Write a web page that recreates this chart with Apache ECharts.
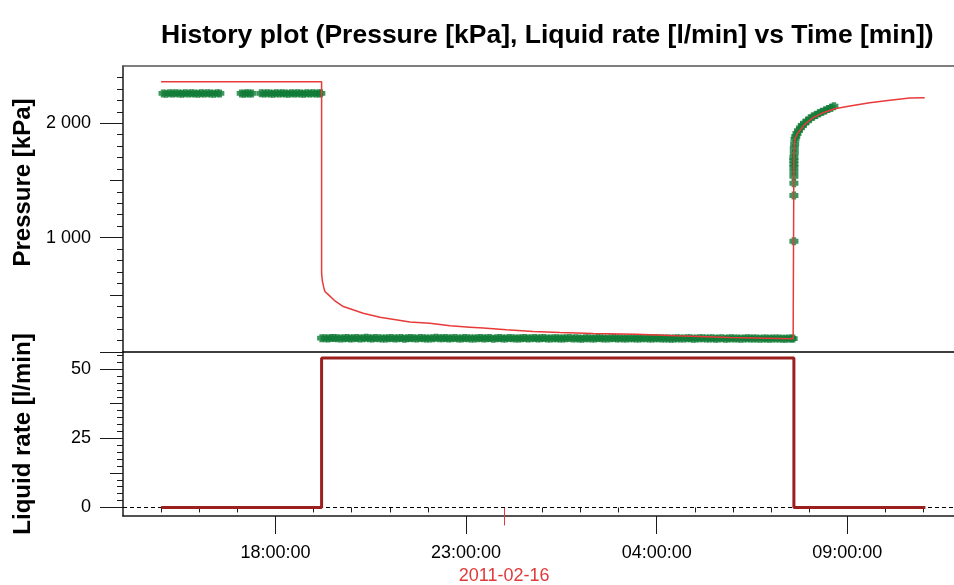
<!DOCTYPE html>
<html>
<head>
<meta charset="utf-8">
<script src="https://cdn.jsdelivr.net/npm/echarts@6/dist/echarts.min.js"></script>
<style>
  html, body { margin: 0; padding: 0; background: #fff; }
  #chart { width: 954px; height: 585px; }
</style>
</head>
<body>
<div id="chart"></div>
<script>
// ---- Data (time in hours since 2011-02-15 00:00) ----
const titleText = 'History plot (Pressure [kPa], Liquid rate [l/min] vs Time [min])';
const pressureName = 'Pressure [kPa]';
const rateName = 'Liquid rate [l/min]';
const dateLabel = '2011-02-16';

// Simulated / model pressure (red line) [hour, kPa]
const pressureModel = [
  [15.00, 2362], [19.21, 2362], [19.21, 687], [19.23, 620], [19.27, 560], [19.30, 527], [19.38, 504],
  [19.55, 450], [19.78, 397], [20.30, 339], [20.74, 304], [21.53, 263], [22.05, 252],
  [22.58, 229], [23.10, 217], [23.45, 209], [24.06, 194], [24.76, 179],
  [25.46, 170], [26.33, 162], [27.47, 155], [28.52, 142], [29.92, 127],
  [31.58, 116], [31.60, 116], [31.60, 1716], [31.62, 1861], [31.71, 1918],
  [31.89, 1991], [32.10, 2049], [32.37, 2092], [32.67, 2127], [33.07, 2150],
  [33.59, 2179], [34.12, 2200], [34.64, 2220], [35.03, 2223]
];

// Measured gauge pressure (green markers) [hour, kPa]
const gaugePreA = [
  [15.05, 2260], [15.13, 2258], [15.22, 2261], [15.30, 2259], [15.38, 2262],
  [15.47, 2260], [15.55, 2258], [15.63, 2261], [15.72, 2259], [15.80, 2262],
  [15.88, 2260], [15.97, 2257], [16.05, 2261], [16.13, 2259], [16.22, 2262],
  [16.30, 2260], [16.38, 2258], [16.47, 2261], [16.54, 2260]
];
const gaugePreB = [
  [17.10, 2260], [17.17, 2258], [17.24, 2261], [17.31, 2259], [17.38, 2260],
  [17.62, 2261], [17.70, 2259], [17.78, 2262], [17.86, 2260], [17.94, 2258],
  [18.02, 2261], [18.10, 2259], [18.18, 2262], [18.26, 2260], [18.34, 2258],
  [18.42, 2261], [18.50, 2259], [18.58, 2262], [18.66, 2260], [18.74, 2258],
  [18.82, 2261], [18.90, 2259], [18.98, 2262], [19.06, 2260], [19.14, 2259],
  [19.19, 2261]
];
const gaugeDrawdown = [
  [19.21, 121], [19.30, 120], [19.38, 119], [19.46, 122], [19.54, 123], [19.62, 120], [19.71, 118], [19.80, 121], [19.88, 122],
  [19.96, 119], [20.04, 120], [20.13, 123], [20.21, 117], [20.30, 121], [20.38, 124], [20.46, 120], [20.54, 119], [20.62, 122], [20.71, 121],
  [20.80, 119], [20.88, 118], [20.96, 121], [21.04, 122], [21.13, 119], [21.21, 120], [21.30, 122], [21.38, 116], [21.46, 120], [21.54, 123],
  [21.62, 121], [21.71, 119], [21.80, 122], [21.88, 121], [21.96, 119], [22.04, 118], [22.13, 121], [22.21, 124], [22.30, 120], [22.38, 120],
  [22.46, 122], [22.54, 117], [22.62, 120], [22.71, 122], [22.80, 118], [22.88, 119], [22.96, 122], [23.04, 121], [23.13, 119], [23.21, 118],
  [23.30, 121], [23.38, 123], [23.46, 119], [23.54, 120], [23.62, 122], [23.71, 116], [23.80, 120], [23.88, 122], [23.96, 118], [24.04, 119],
  [24.13, 122], [24.21, 121], [24.30, 118], [24.38, 118], [24.46, 121], [24.54, 123], [24.62, 119], [24.71, 120], [24.80, 122], [24.88, 117],
  [24.96, 120], [25.04, 122], [25.13, 119], [25.21, 119], [25.30, 121], [25.38, 121], [25.46, 118], [25.54, 118], [25.62, 121], [25.71, 122],
  [25.80, 119], [25.88, 120], [25.96, 118], [26.04, 116], [26.13, 120], [26.21, 121], [26.30, 118], [26.38, 119], [26.46, 122], [26.54, 121],
  [26.62, 118], [26.71, 118], [26.80, 121], [26.88, 122], [26.96, 119], [27.04, 120], [27.13, 118], [27.21, 117], [27.30, 120], [27.38, 121],
  [27.46, 118], [27.54, 119], [27.62, 121], [27.71, 120], [27.80, 117], [27.88, 117], [27.96, 120], [28.04, 121], [28.13, 118], [28.21, 119],
  [28.30, 117], [28.38, 115], [28.46, 119], [28.54, 120], [28.62, 117], [28.71, 118], [28.80, 120], [28.88, 120], [28.96, 116], [29.04, 117],
  [29.13, 120], [29.21, 121], [29.30, 117], [29.38, 118], [29.46, 120], [29.54, 116], [29.62, 119], [29.71, 120], [29.80, 116], [29.88, 117],
  [29.96, 120], [30.04, 119], [30.13, 117], [30.21, 116], [30.30, 119], [30.38, 120], [30.46, 117], [30.54, 118], [30.62, 119], [30.71, 115],
  [30.80, 118], [30.88, 119], [30.96, 116], [31.04, 117], [31.13, 119], [31.21, 119], [31.30, 116], [31.38, 116], [31.46, 119], [31.54, 118], [31.58, 117]
];
const gaugeBuildup = [
  [31.60, 968], [31.60, 1368], [31.60, 1475], [31.60, 1536], [31.60, 1577],
  [31.60, 1614], [31.60, 1643], [31.60, 1672], [31.60, 1700], [31.61, 1740],
  [31.61, 1780], [31.62, 1820], [31.63, 1860], [31.65, 1885], [31.68, 1910],
  [31.72, 1935], [31.77, 1960], [31.82, 1980], [31.88, 2000], [31.95, 2020],
  [32.02, 2040], [32.10, 2058], [32.18, 2072], [32.26, 2087], [32.34, 2100],
  [32.42, 2112], [32.50, 2124], [32.58, 2136], [32.65, 2148]
];

// Liquid rate [hour, l/min]
const liquidRate = [
  [15.00, 0], [19.21, 0], [19.21, 54], [31.60, 54], [31.60, 0], [35.05, 0]
];

// Axis ticks / labels
const timeLabelTicks = [18, 23, 28, 33];
const timeMinorTicks = [15, 16, 17, 19, 20, 21, 22, 25, 26, 27, 29, 30, 31, 32, 34, 35];
const dateTicks = [24];
const pressureLabels = [1000, 2000];
const pressureMajorTicks = [0, 1000, 2000];
const pressureMidTicks = [500, 1500];
const pressureMinorTicks = [100, 200, 300, 400, 600, 700, 800, 900, 1100, 1200, 1300, 1400,
  1600, 1700, 1800, 1900, 2100, 2200, 2300, 2400];
const rateLabels = [0, 25, 50];
const rateMajorTicks = [0, 25, 50];
const rateMidTicks = [12.5, 37.5];
const rateMinorTicks = [2.5, 5, 7.5, 10, 15, 17.5, 20, 22.5, 27.5, 30, 32.5, 35, 40, 42.5,
  45, 47.5, 52.5, 55];

// ---- Chart ----
const FONT = 'Liberation Sans, Arial, Helvetica, sans-serif';
const X_MIN = 14, X_MAX = 35.8;
const P_MIN = 0, P_MAX = 2500;
const R_MIN = -3.1, R_MAX = 56.2;
const AX = '#1a1a1a';

function pad2(n) { return (n < 10 ? '0' : '') + n; }
function timeFmt(v) { return pad2(Math.round(v) % 24) + ':00:00'; }
function thousands(v) { return String(v).replace(/\B(?=(\d{3})+(?!\d))/g, ' '); }

function tickAxis(kind, gridIndex, min, max, ticks, len, color, extra) {
  const ax = {
    type: 'value', gridIndex: gridIndex, min: min, max: max,
    axisLine: { show: false },
    axisTick: { show: true, inside: false, length: len, customValues: ticks,
      lineStyle: { color: color || AX, width: 1 } },
    axisLabel: { show: false },
    splitLine: { show: false }
  };
  if (kind === 'x') ax.position = 'bottom'; else ax.position = 'left';
  return Object.assign(ax, extra || {});
}

const gaugeAll = gaugePreA.concat(gaugePreB, gaugeDrawdown, gaugeBuildup);

const option = {
  animation: false,
  backgroundColor: '#ffffff',
  title: {
    text: titleText,
    left: 156, top: 17,
    textStyle: { fontFamily: FONT, fontSize: 26.5, fontWeight: 'bold', color: '#000' }
  },
  grid: [
    { left: 123, right: 0, top: 66, height: 286 },
    { left: 123, right: 0, top: 352, height: 166 }
  ],
  xAxis: [
    { type: 'value', gridIndex: 0, min: X_MIN, max: X_MAX, position: 'bottom',
      axisLine: { show: true, onZero: false, lineStyle: { color: '#000', width: 1.5 } },
      axisTick: { show: false }, axisLabel: { show: false }, splitLine: { show: false } },
    { type: 'value', gridIndex: 0, min: X_MIN, max: X_MAX, position: 'top',
      axisLine: { show: true, onZero: false, lineStyle: { color: '#555', width: 1.5 } },
      axisTick: { show: false }, axisLabel: { show: false }, splitLine: { show: false } },
    { type: 'value', gridIndex: 1, min: X_MIN, max: X_MAX, position: 'bottom',
      axisLine: { show: true, onZero: false, lineStyle: { color: AX, width: 1.5 } },
      axisTick: { show: true, length: 18, customValues: timeLabelTicks, lineStyle: { color: AX } },
      axisLabel: { show: true, customValues: timeLabelTicks, formatter: timeFmt, margin: 28,
        fontFamily: FONT, fontSize: 18, color: '#000' },
      splitLine: { show: false } },
    tickAxis('x', 1, X_MIN, X_MAX, timeMinorTicks, 5),
    tickAxis('x', 1, X_MIN, X_MAX, dateTicks, 18, '#e03a3a', {
      axisLabel: { show: true, customValues: dateTicks, formatter: function () { return dateLabel; },
        margin: 51, fontFamily: FONT, fontSize: 18, color: '#e03a3a' } })
  ],
  yAxis: [
    { type: 'value', gridIndex: 0, min: P_MIN, max: P_MAX, position: 'left',
      name: pressureName, nameLocation: 'middle', nameRotate: 90, nameGap: 88,
      nameTextStyle: { fontFamily: FONT, fontSize: 24, fontWeight: 'bold', color: '#000',
        padding: [0, 0, 0, 53] },
      axisLine: { show: true, lineStyle: { color: AX, width: 1.5 } },
      axisTick: { show: true, length: 23, customValues: pressureMajorTicks, lineStyle: { color: AX } },
      axisLabel: { show: true, customValues: pressureLabels, formatter: thousands, margin: 32,
        fontFamily: FONT, fontSize: 18, color: '#000' },
      splitLine: { show: false } },
    tickAxis('y', 0, P_MIN, P_MAX, pressureMidTicks, 13),
    tickAxis('y', 0, P_MIN, P_MAX, pressureMinorTicks, 6),
    { type: 'value', gridIndex: 1, min: R_MIN, max: R_MAX, position: 'left',
      name: rateName, nameLocation: 'middle', nameRotate: 90, nameGap: 88,
      nameTextStyle: { fontFamily: FONT, fontSize: 24, fontWeight: 'bold', color: '#000' },
      axisLine: { show: true, lineStyle: { color: AX, width: 1.5 } },
      axisTick: { show: true, length: 23, customValues: rateMajorTicks, lineStyle: { color: AX } },
      axisLabel: { show: true, customValues: rateLabels, margin: 32,
        fontFamily: FONT, fontSize: 18, color: '#000' },
      splitLine: { show: false } },
    tickAxis('y', 1, R_MIN, R_MAX, rateMidTicks, 13),
    tickAxis('y', 1, R_MIN, R_MAX, rateMinorTicks, 6)
  ],
  series: [
    { name: 'Gauge pressure', type: 'scatter', xAxisIndex: 0, yAxisIndex: 0,
      data: gaugeAll,
      symbol: 'path://M0,2H10V8H0Z M2.5,0H7.5V10H2.5Z', symbolSize: [9, 8],
      itemStyle: { color: '#0f7a36' }, z: 2, silent: true },
    { name: 'Model pressure', type: 'line', xAxisIndex: 0, yAxisIndex: 0,
      data: pressureModel, showSymbol: false, symbol: 'none',
      lineStyle: { color: '#e83a3a', width: 1.5 }, z: 3, silent: true },
    { name: 'Liquid rate', type: 'line', xAxisIndex: 2, yAxisIndex: 3,
      data: liquidRate, showSymbol: false, symbol: 'none',
      lineStyle: { color: '#9c1f1f', width: 3 }, z: 3, silent: true,
      markLine: { silent: true, symbol: 'none', label: { show: false },
        lineStyle: { color: '#000', type: [4, 3], width: 1 },
        data: [{ yAxis: 0 }], z: 1 } }
  ]
};

const chart = echarts.init(document.getElementById('chart'), null, { renderer: 'canvas' });
chart.setOption(option);
</script>
</body>
</html>
